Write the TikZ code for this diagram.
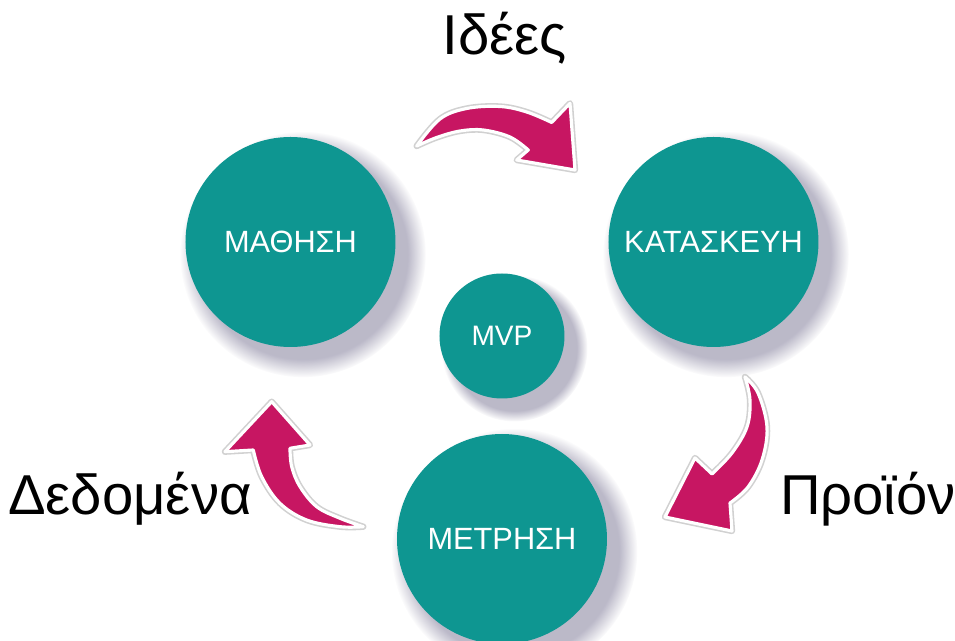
\documentclass[tikz,border=0pt]{standalone}
\usepackage{fontspec}
\setmainfont{Liberation Sans}
\usepackage{tikz}
\usetikzlibrary{shapes,positioning,shadows,fadings}
\definecolor{mvpteal}{RGB}{14,150,145}
\definecolor{mvppink}{RGB}{199,22,98}
\definecolor{mvpshade}{RGB}{105,100,135}

\tikzset{
  stage/.style={circle, fill=mvpteal, text=white, inner sep=0pt,
    minimum size=4.2cm, font=\fontsize{17.5}{20}\selectfont,
    circular drop shadow={shadow xshift=6pt, shadow yshift=-6pt,
      shadow scale=1.17, fill=mvpshade, opacity=.45}},
  core/.style={stage, minimum size=2.5cm, font=\fontsize{16}{19}\selectfont},
  cue/.style={anchor=base, font=\fontsize{32}{38}\selectfont},
  turn/.style={fill=mvppink, draw=white, line width=1.8pt, line join=round,
    preaction={draw=black!18, line width=3.6pt, line join=round}},
}

\begin{document}
\begin{tikzpicture}
  \clip (-10.04,-6.1) rectangle (9.06,6.72);
  \fill[white] (-10.04,-6.1) rectangle (9.06,6.72);

  % the loop: learn -> build -> measure
  \node[stage] (learn) at (-4.23,1.88) {ΜΑΘΗΣΗ};
  \node[stage] (build) at (4.23,1.88) {ΚΑΤΑΣΚΕΥΗ};
  \node[stage] (measure) at (0,-4.06) {ΜΕΤΡΗΣΗ};
  \node[core] (mvp) at (0,0) {MVP};

  % curved block arrows between the stages
  \path[turn] (-1.706,3.80)
    -- plot[smooth, tension=.6] coordinates {(-1.706,3.80) (-1.24,4.34) (-0.706,4.55) (-0.04,4.59) (0.494,4.48) (0.994,4.27)}
    -- (1.36,4.654) -- (1.46,3.32) -- (0.294,3.52) -- (0.526,3.72)
    -- plot[smooth, tension=.6] coordinates {(0.526,3.72) (0.16,3.98) (-0.374,4.12) (-0.84,4.10) (-1.306,3.97) (-1.706,3.80)}
    -- cycle;
  \path[turn] (4.86,-0.82)
    -- plot[smooth, tension=.6] coordinates {(4.86,-0.82) (5.12,-1.14) (5.30,-1.82) (5.20,-2.48) (4.92,-3.02) (4.56,-3.34)}
    -- (4.60,-3.90) -- (3.26,-3.62) -- (3.86,-2.44) -- (4.20,-2.76)
    -- plot[smooth, tension=.6] coordinates {(4.20,-2.76) (4.60,-2.34) (4.90,-1.82) (4.96,-1.28) (4.86,-0.82)}
    -- cycle;
  \path[turn] (-2.774,-3.814)
    -- plot[smooth, tension=.6] coordinates {(-2.774,-3.814) (-3.24,-3.814) (-3.906,-3.68) (-4.44,-3.346) (-4.806,-2.814) (-4.974,-2.28)}
    -- (-5.54,-2.314) -- (-4.606,-1.314) -- (-3.84,-2.18) -- (-4.24,-2.246)
    -- plot[smooth, tension=.6] coordinates {(-4.24,-2.246) (-4.206,-2.614) (-4.04,-3.014) (-3.706,-3.414) (-3.24,-3.646) (-2.774,-3.814)}
    -- cycle;

  % what flows along each arrow
  \node[cue] (ideas) at (0.05,5.62) {Ιδέες};
  \node[cue] (product) at (7.32,-3.58) {Προϊόν};
  \node[cue] (data) at (-7.44,-3.58) {Δεδομένα};
\end{tikzpicture}
\end{document}
